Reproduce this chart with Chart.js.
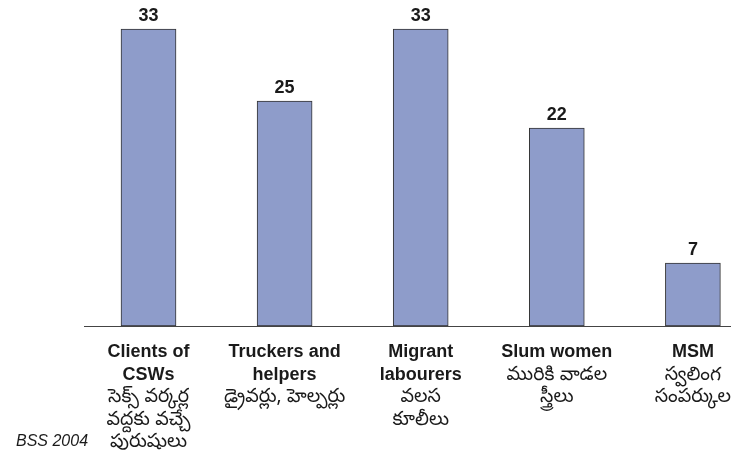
<!DOCTYPE html>
<html>
<head>
<meta charset="utf-8">
<script src="https://cdn.jsdelivr.net/npm/chart.js@4"></script>
<style>
  html, body { margin: 0; padding: 0; background: #fff; overflow: hidden; }
  #chart { display: block; }
</style>
</head>
<body>
<canvas id="chart" width="731" height="468"></canvas>
<script>
// values
const values = [33, 25, 33, 22, 7];

// category labels, english (bold) then telugu, one entry per line
const englishLines = [
  ['Clients of', 'CSWs'],
  ['Truckers and', 'helpers'],
  ['Migrant', 'labourers'],
  ['Slum women'],
  ['MSM']
];
const teluguLines = [
  ['సెక్స్ వర్కర్ల', 'వద్దకు వచ్చే', 'పురుషులు'],
  ['డ్రైవర్లు, హెల్పర్లు'],
  ['వలస', 'కూలీలు'],
  ['మురికి వాడల', 'స్త్రీలు'],
  ['స్వలింగ', 'సంపర్కుల']
];

const sourceNote = 'BSS 2004';

const LATIN = '"Liberation Sans", Arial, sans-serif';
const TELUGU = '"Noto Sans Telugu", "Lohit Telugu", Gautami, "Liberation Sans", sans-serif';

// draws the value on top of each bar
const valueLabels = {
  id: 'valueLabels',
  afterDatasetsDraw(chart) {
    const ctx = chart.ctx;
    const meta = chart.getDatasetMeta(0);
    ctx.save();
    ctx.font = 'bold 18px ' + LATIN;
    ctx.fillStyle = '#1a1a1a';
    ctx.textAlign = 'center';
    ctx.textBaseline = 'alphabetic';
    meta.data.forEach((bar, i) => {
      ctx.fillText(String(values[i]), bar.x, bar.y - 8);
    });
    ctx.restore();
  }
};

// draws the two-language category labels under the axis
const categoryLabels = {
  id: 'categoryLabels',
  afterDraw(chart) {
    const ctx = chart.ctx;
    const xScale = chart.scales.x;
    const top = chart.chartArea.bottom + 31;
    const lineH = 22.5;
    ctx.save();
    ctx.fillStyle = '#1a1a1a';
    ctx.textAlign = 'center';
    ctx.textBaseline = 'alphabetic';
    values.forEach((v, i) => {
      const x = xScale.getPixelForValue(i);
      let y = top;
      ctx.font = 'bold 18px ' + LATIN;
      englishLines[i].forEach(line => {
        ctx.fillText(line, x, y);
        y += lineH;
      });
      ctx.font = '19px ' + TELUGU;
      teluguLines[i].forEach(line => {
        ctx.fillText(line, x, y);
        y += lineH;
      });
    });
    ctx.font = 'italic 16px ' + LATIN;
    ctx.textAlign = 'left';
    ctx.fillText(sourceNote, 16, 446);
    ctx.restore();
  }
};

new Chart(document.getElementById('chart').getContext('2d'), {
  type: 'bar',
  data: {
    datasets: [{
      data: values.map((v, i) => ({ x: i, y: v })),
      backgroundColor: '#8e9cca',
      borderColor: '#333333',
      borderWidth: 1,
      borderSkipped: false,
      barThickness: 55
    }]
  },
  options: {
    responsive: false,
    animation: false,
    devicePixelRatio: 1,
    layout: { padding: { left: 84, right: 0, top: 2, bottom: 142 } },
    plugins: {
      legend: { display: false },
      tooltip: { enabled: false }
    },
    scales: {
      x: {
        type: 'linear',
        offset: false,
        min: -0.474,
        max: 4.28,
        ticks: { display: false },
        grid: { display: false, drawTicks: false, offset: false },
        border: { display: true, color: '#444444', width: 1 }
      },
      y: {
        display: false,
        min: 0,
        max: 36
      }
    }
  },
  plugins: [valueLabels, categoryLabels]
});
</script>
</body>
</html>
